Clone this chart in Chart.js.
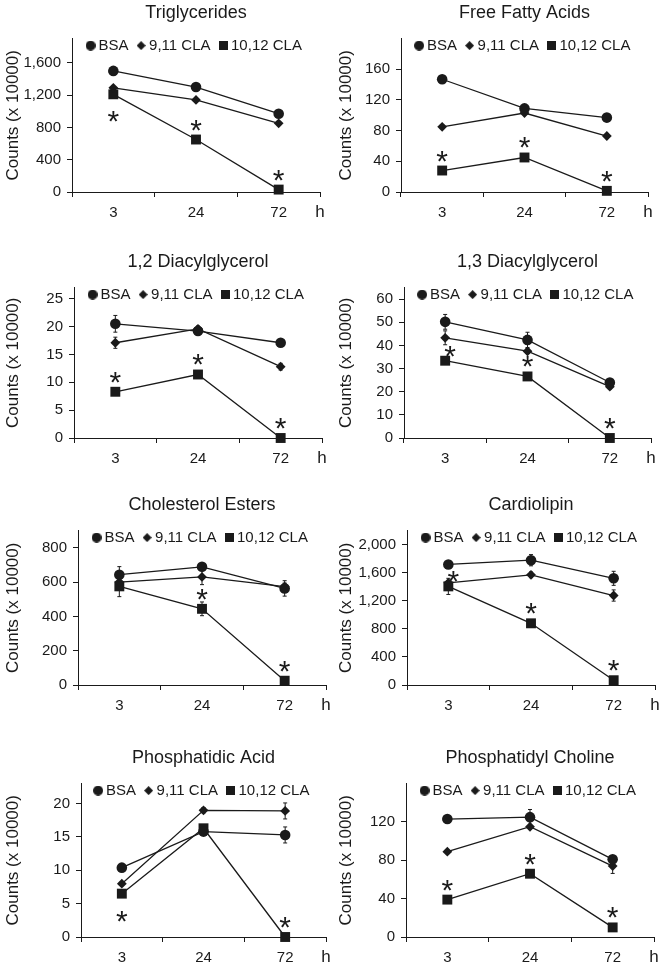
<!DOCTYPE html>
<html>
<head>
<meta charset="utf-8">
<script src="https://cdn.jsdelivr.net/npm/chart.js@4.4.1/dist/chart.umd.min.js"></script>
<style>
  html, body { margin: 0; padding: 0; background: #fff; }
  #wrap { position: relative; width: 667px; height: 978px; }
  #wrap canvas { position: absolute; }
</style>
</head>
<body>
<div id="wrap"></div>
<script>
const hours = ['3', '24', '72'];
const seriesNames = ['BSA', '9,11 CLA', '10,12 CLA'];
const panelTitles = ['Triglycerides', 'Free Fatty Acids', '1,2 Diacylglycerol', '1,3 Diacylglycerol',
  'Cholesterol Esters', 'Cardiolipin', 'Phosphatidic Acid', 'Phosphatidyl Choline'];

// counts (x 10000) per panel, at 3 / 24 / 72 h
const bsa = [[1500, 1300, 970], [147, 109, 97], [20.5, 19.2, 17.1], [50.2, 42.4, 24],
  [643, 689, 563], [1718, 1778, 1520], [10.4, 15.8, 15.3], [123, 125, 81]];
const cla911 = [[1290, 1140, 850], [85, 103, 73], [17.1, 19.6, 12.8], [43.3, 37.5, 22.2],
  [600, 630, 574], [1456, 1570, 1275], [8.0, 19.0, 18.9], [89, 115, 74]];
const cla1012 = [[1210, 650, 30], [28, 45, 1.5], [8.3, 11.4, 0], [33.4, 26.6, 0],
  [575, 444, 25], [1405, 879, 68], [6.5, 16.3, 0], [39, 66, 10]];

// error bars (+/-)
const bsaErr = [[0, 0, 0], [0, 0, 0], [1.5, 0.5, 0.5], [3.2, 3.3, 0.8],
  [47, 10, 45], [40, 80, 100], [0.5, 0.3, 1.2], [2, 8, 4]];
const cla911Err = [[0, 0, 0], [0, 0, 0], [1, 0.5, 0.6], [3, 1, 1],
  [20, 45, 20], [30, 40, 80], [0.3, 0.4, 1.2], [1, 2, 7.7]];
const cla1012Err = [[40, 0, 0], [0, 0, 0], [0, 0, 0], [1.5, 1, 0],
  [60, 40, 0], [115, 20, 0], [0.3, 0.4, 0], [0, 0, 0]];

// significance marks on 10,12 CLA: a = above, b = below, r = upper right
const stars = [['b', 'a', 'a'], ['a', 'a', 'a'], ['a', 'a', 'a'], ['r', 'a', 'a'],
  [null, 'a', 'a'], ['r', 'a', 'a'], ['b', null, 'a'], ['a', 'a', 'a']];

const yMax = [1900, 200, 27, 65, 900, 2200, 23, 160];
const yStep = [400, 40, 5, 10, 200, 400, 5, 40];
const yTopTick = [1600, 160, 25, 60, 800, 2000, 20, 120];

// layout
const colLeft = [0, 333];
const colWidth = [333, 334];
const rowTop = [0, 249, 492, 745];
const rowHeight = [229, 226, 230, 229];
const axisLeft = [72, 68, 74, 71, 78, 74, 81, 73];
const plotRight = [320, 315, 322, 318, 327, 322, 328, 321];

const INK = '#1a1a1a';
const FONT = '"Liberation Sans", Arial, sans-serif';
Chart.defaults.font.family = FONT;
Chart.defaults.color = INK;

function marker(kind, size) {
  const c = document.createElement('canvas');
  c.width = size; c.height = size;
  const g = c.getContext('2d');
  const h = size / 2;
  g.fillStyle = INK;
  g.beginPath();
  if (kind === 'circle') g.arc(h, h, h, 0, Math.PI * 2);
  else if (kind === 'diamond') { g.moveTo(h, 0); g.lineTo(size, h); g.lineTo(h, size); g.lineTo(0, h); g.closePath(); }
  else g.rect(0, 0, size, size);
  g.fill();
  return c;
}
const legendMarks = [marker('circle', 10), marker('diamond', 9), marker('square', 9)];

const errorBars = {
  id: 'errorBars',
  beforeDatasetsDraw(chart) {
    const {ctx} = chart;
    const y = chart.scales.y;
    ctx.save();
    ctx.strokeStyle = INK;
    ctx.lineWidth = 1;
    chart.data.datasets.forEach((ds, di) => {
      const meta = chart.getDatasetMeta(di);
      ds.errors.forEach((e, i) => {
        if (!e) return;
        const p = meta.data[i];
        const v = ds.data[i];
        const top = y.getPixelForValue(v + e);
        const bot = y.getPixelForValue(Math.max(0, v - e));
        ctx.beginPath();
        ctx.moveTo(p.x, top); ctx.lineTo(p.x, bot);
        ctx.moveTo(p.x - 2, top); ctx.lineTo(p.x + 2, top);
        ctx.moveTo(p.x - 2, bot); ctx.lineTo(p.x + 2, bot);
        ctx.stroke();
      });
    });
    ctx.restore();
  }
};

const starMarks = {
  id: 'starMarks',
  afterDatasetsDraw(chart, args, opts) {
    const meta = chart.getDatasetMeta(2);
    const {ctx} = chart;
    ctx.save();
    ctx.font = '30px ' + FONT;
    ctx.fillStyle = INK;
    ctx.textAlign = 'center';
    ctx.textBaseline = 'alphabetic';
    (opts.marks || []).forEach((m, i) => {
      if (!m) return;
      const p = meta.data[i];
      const off = {a: [0, -17], b: [0, 20], r: [5, -12]}[m];
      ctx.fillText('*', p.x + off[0], p.y + off[1] + 17);
    });
    ctx.restore();
  }
};

const hourUnit = {
  id: 'hourUnit',
  afterDraw(chart) {
    const {ctx, chartArea} = chart;
    ctx.save();
    ctx.font = '17px ' + FONT;
    ctx.fillStyle = INK;
    ctx.textAlign = 'center';
    ctx.textBaseline = 'middle';
    ctx.fillText('h', chartArea.right, chartArea.bottom + 20);
    ctx.restore();
  }
};

// legend sits inside the plot area, in one row
const legendInside = {
  id: 'legendInside',
  beforeLayout(chart) {
    if (chart.legend) chart.legend.isHorizontal = () => true;
  },
  afterLayout(chart) {
    const lg = chart.legend, ca = chart.chartArea;
    if (!lg) return;
    lg.left = ca.left;
    lg.right = ca.right;
    lg.width = lg.right - lg.left;
    lg.top = ca.top - 12.5;
    lg.bottom = lg.top + lg.height;
  }
};

const wrap = document.getElementById('wrap');

panelTitles.forEach((title, i) => {
  const col = i % 2, row = Math.floor(i / 2);
  const cv = document.createElement('canvas');
  cv.width = colWidth[col];
  cv.height = rowHeight[row];
  cv.style.left = colLeft[col] + 'px';
  cv.style.top = rowTop[row] + 'px';
  wrap.appendChild(cv);

  const line = {borderColor: INK, backgroundColor: INK, pointBackgroundColor: INK, pointBorderWidth: 0,
    borderWidth: 1.3, tension: 0, clip: false};

  new Chart(cv, {
    type: 'line',
    data: {
      labels: hours,
      datasets: [
        Object.assign({label: seriesNames[0], data: bsa[i], errors: bsaErr[i], pointStyle: 'circle', pointRadius: 5.3, pointHoverRadius: 5.3}, line),
        Object.assign({label: seriesNames[1], data: cla911[i], errors: cla911Err[i], pointStyle: 'rectRot', pointRadius: 4.9, pointHoverRadius: 4.9}, line),
        Object.assign({label: seriesNames[2], data: cla1012[i], errors: cla1012Err[i], pointStyle: 'rect', pointRadius: 7, pointHoverRadius: 7}, line)
      ]
    },
    options: {
      responsive: false,
      animation: false,
      events: [],
      layout: {padding: {left: 0, top: 0, bottom: 0, right: colWidth[col] - plotRight[i]}},
      scales: {
        x: {
          type: 'category',
          offset: true,
          grid: {display: true, offset: true, drawOnChartArea: false, tickLength: 5, color: INK},
          border: {display: true, color: INK, width: 1},
          ticks: {padding: 7, font: {size: 15}, color: INK, maxRotation: 0}
        },
        y: {
          min: 0,
          max: yMax[i],
          grid: {drawOnChartArea: false, tickLength: 5, color: INK},
          border: {display: true, color: INK, width: 1},
          ticks: {padding: 6, font: {size: 15}, color: INK},
          afterBuildTicks: s => {
            const t = [];
            for (let v = 0; v <= yTopTick[i] + 1e-9; v += yStep[i]) t.push({value: v});
            s.ticks = t;
          },
          afterFit: s => { s.width = axisLeft[i]; },
          title: {display: true, text: 'Counts (x 10000)', font: {size: 17}, color: INK, padding: {top: 3, bottom: 0}}
        }
      },
      plugins: {
        title: {display: true, text: title, fullSize: false, font: {size: 18, weight: 'normal'}, color: INK,
          padding: {top: 2, bottom: 15}},
        legend: {
          display: true,
          position: 'chartArea',
          align: 'center',
          labels: {
            usePointStyle: true,
            boxWidth: 1,
            padding: 12,
            font: {size: 15},
            color: INK,
            generateLabels: chart => Chart.defaults.plugins.legend.labels.generateLabels(chart)
              .map((it, k) => Object.assign(it, {pointStyle: legendMarks[k]}))
          }
        },
        tooltip: {enabled: false},
        starMarks: {marks: stars[i]}
      }
    },
    plugins: [legendInside, errorBars, starMarks, hourUnit]
  });
});
</script>
</body>
</html>
